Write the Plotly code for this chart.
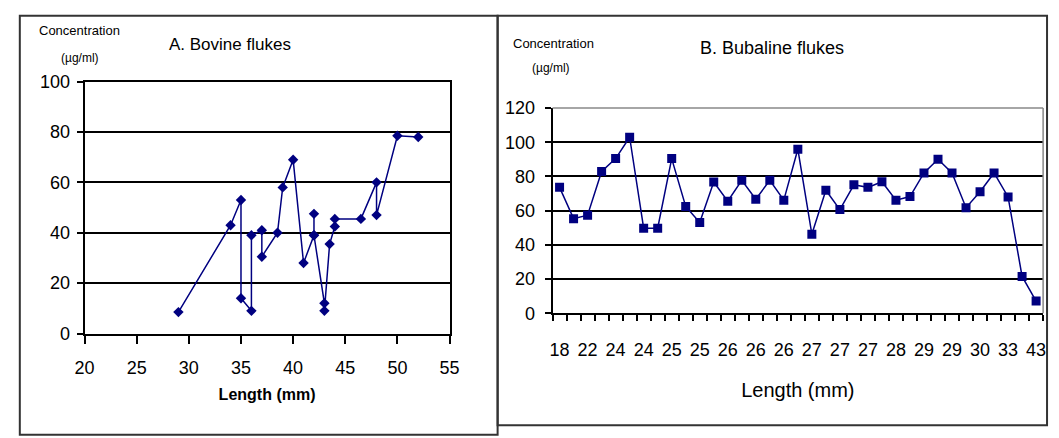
import plotly.graph_objects as go

# ---- Panel A: Bovine flukes ----
bov_length = [29, 34, 35, 35, 36, 36, 37, 37, 38.5, 39, 40, 41, 42, 42, 42, 43, 43, 43.5, 44, 44, 46.5, 48, 48, 50, 52]
bov_conc = [8.5, 43, 53, 14, 9, 39, 41, 30.5, 40, 58, 69, 28, 39, 47.5, 39, 12, 9, 35.5, 42.5, 45.5, 45.5, 60, 47, 78.5, 78]
bov_xticks = [20, 25, 30, 35, 40, 45, 50, 55]
bov_yticks = [0, 20, 40, 60, 80, 100]

# ---- Panel B: Bubaline flukes ----
bub_length = [18, 20, 22, 23, 24, 24, 24, 24, 25, 25, 25, 25, 26, 26, 26, 26, 26, 26,
              27, 27, 27, 27, 27, 28, 28, 28, 29, 29, 29, 30, 30, 32, 33, 35, 43]
bub_conc = [73.6, 55.3, 57.3, 82.9, 90.4, 102.9, 49.7, 49.7, 90.4, 62.4,
            53, 76.7, 65.5, 77.7, 66.7, 77.7, 66.1, 95.9, 46.2, 71.9,
            60.6, 75.1, 73.6, 76.9, 66.1, 68.2, 82, 90, 82, 61.7,
            71, 82, 68, 21.5, 7.1]
bub_yticks = [0, 20, 40, 60, 80, 100, 120]

W, H = 1059, 438
FONT = "Liberation Sans, Arial, sans-serif"
NAVY = "#000080"

def px(x):
    return x / W

def py(y):
    return 1 - y / H

bub_idx = list(range(len(bub_length)))

fig = go.Figure()
fig.add_trace(go.Scatter(
    x=bov_length, y=bov_conc, mode="lines+markers",
    line=dict(color=NAVY, width=1.5),
    marker=dict(symbol="diamond", size=8, color=NAVY),
    xaxis="x", yaxis="y", showlegend=False))
fig.add_trace(go.Scatter(
    x=bub_idx, y=bub_conc, mode="lines+markers",
    line=dict(color=NAVY, width=1.5),
    marker=dict(symbol="square", size=9, color=NAVY),
    xaxis="x2", yaxis="y2", showlegend=False))

fig.update_layout(
    width=W, height=H, margin=dict(l=0, r=0, t=0, b=0),
    paper_bgcolor="white", plot_bgcolor="white",
    font=dict(family=FONT, color="black"),
    xaxis=dict(domain=[px(76), px(448)], range=[20, 55], tickmode="array",
               tickvals=bov_xticks, ticks="outside", ticklen=8, tickwidth=2,
               tickcolor="black", showline=True, linecolor="black", linewidth=2,
               mirror=True, showgrid=False, zeroline=False,
               tickfont=dict(size=18), ticklabelstandoff=9,
               title=dict(text="<b>Length (mm)</b>", font=dict(size=16), standoff=12),
               anchor="y"),
    yaxis=dict(domain=[py(339), py(75)], range=[0, 100], tickmode="array",
               tickvals=bov_yticks, ticks="outside", ticklen=6, tickwidth=2,
               tickcolor="black", showline=True, linecolor="black", linewidth=2,
               mirror=True, showgrid=True, gridcolor="black", gridwidth=1.8,
               zeroline=False, tickfont=dict(size=18), ticklabelstandoff=3,
               anchor="x"),
    xaxis2=dict(domain=[px(553), px(1053)], range=[-0.5, len(bub_length) - 0.5],
                tickmode="array", tickvals=bub_idx[::2],
                ticktext=[str(v) for v in bub_length[::2]],
                ticks="", showline=True, linecolor="black", linewidth=2,
                showgrid=False, zeroline=False, tickfont=dict(size=18),
                ticklabelstandoff=19,
                minor=dict(tickmode="array",
                           tickvals=[i - 0.5 for i in range(len(bub_length) + 1)],
                           ticks="outside", ticklen=6, tickwidth=2, tickcolor="black",
                           showgrid=False),
                title=dict(text="Length (mm)", font=dict(size=20), standoff=24),
                anchor="y2"),
    yaxis2=dict(domain=[py(317.7), py(102.7)], range=[0, 120], tickmode="array",
                tickvals=bub_yticks, ticks="outside", ticklen=6, tickwidth=2,
                tickcolor="black", showline=True, linecolor="black", linewidth=2,
                showgrid=True, gridcolor="black", gridwidth=1.8, zeroline=False,
                tickfont=dict(size=18), ticklabelstandoff=6, anchor="x2"),
)

# frame on top/right of panel B plot area (gray)
fig.add_shape(type="line", xref="x2 domain", yref="y2 domain", x0=0, x1=1, y0=1, y1=1,
              line=dict(color="#888888", width=1.5))
fig.add_shape(type="line", xref="x2 domain", yref="y2 domain", x0=1, x1=1, y0=0, y1=1,
              line=dict(color="#888888", width=1.5))

# outer panel borders
fig.add_shape(type="rect", xref="paper", yref="paper", x0=px(10), x1=px(497),
              y0=py(445), y1=py(6), line=dict(color="#333333", width=2))
fig.add_shape(type="rect", xref="paper", yref="paper", x0=px(497), x1=px(1057),
              y0=py(435), y1=py(6), line=dict(color="#333333", width=2))

def note(text, x, y, size):
    fig.add_annotation(text=text, x=px(x), y=py(y), xref="paper", yref="paper",
                       showarrow=False, xanchor="center", yanchor="middle",
                       font=dict(size=size, family=FONT, color="black"))

note("Concentration", 71, 22, 13)
note("(µg/ml)", 71, 50, 12)
note("A. Bovine flukes", 224, 36, 17)
note("Concentration", 554, 35, 13)
note("(µg/ml)", 551, 61, 12)
note("B. Bubaline flukes", 777, 40, 18)

fig.write_html("out.html", config={"displayModeBar": False},
               post_script="document.body.style.margin='0px';document.body.style.overflow='hidden';")
